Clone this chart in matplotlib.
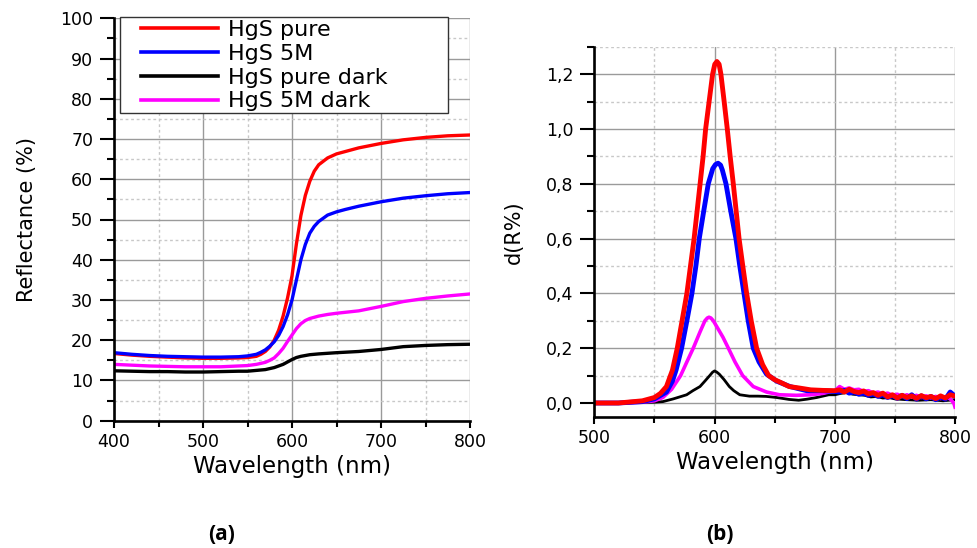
import matplotlib
matplotlib.use("Agg")
import matplotlib.pyplot as plt
from matplotlib.ticker import MultipleLocator, FuncFormatter
from matplotlib.patches import Rectangle

# ---------------- Panel (a): Reflectance ----------------
wl_pure = [400, 420, 440, 460, 480, 500, 520, 540, 550, 560, 565, 570, 575, 580, 585, 590, 595,
           600, 605, 610, 615, 620, 625, 630, 640, 650, 660, 675, 700, 725, 750, 775, 800]
r_pure = [16.7, 16.3, 16.0, 15.8, 15.6, 15.5, 15.5, 15.6, 15.7, 16.0, 16.5, 17.2, 18.3, 20.0, 22.5, 26.0, 30.5,
          36.0, 44.0, 51.0, 56.0, 59.5, 62.0, 63.6, 65.3, 66.3, 66.9, 67.8, 68.9, 69.8, 70.4, 70.8, 71.0]

wl_5m = [400, 420, 440, 460, 480, 500, 520, 540, 550, 560, 565, 570, 575, 580, 585, 590, 595,
         600, 605, 610, 615, 620, 625, 630, 640, 650, 660, 675, 700, 725, 750, 775, 800]
r_5m = [16.9, 16.5, 16.2, 16.0, 15.9, 15.8, 15.8, 15.9, 16.1, 16.5, 17.0, 17.6, 18.5, 19.6, 21.2, 23.4, 26.3,
        30.0, 35.0, 40.0, 43.8, 46.6, 48.3, 49.5, 51.1, 51.9, 52.5, 53.3, 54.4, 55.3, 55.9, 56.4, 56.7]

wl_5m_dark = [400, 420, 440, 460, 480, 500, 520, 540, 550, 560, 570, 575, 580, 585, 590, 595,
              600, 605, 610, 615, 620, 630, 640, 650, 675, 700, 725, 750, 775, 800]
r_5m_dark = [14.0, 13.8, 13.6, 13.5, 13.4, 13.4, 13.4, 13.6, 13.7, 14.0, 14.5, 15.0, 15.6, 16.7, 18.0, 19.7,
             21.3, 22.9, 24.1, 24.9, 25.4, 26.0, 26.4, 26.7, 27.3, 28.4, 29.6, 30.4, 31.0, 31.5]

wl_pure_dark = [400, 420, 440, 460, 480, 500, 520, 540, 550, 560, 570, 580, 590, 595,
                600, 605, 610, 620, 630, 650, 675, 700, 725, 750, 775, 800]
r_pure_dark = [12.4, 12.3, 12.2, 12.2, 12.1, 12.1, 12.2, 12.3, 12.3, 12.5, 12.7, 13.2, 14.0, 14.6,
               15.2, 15.7, 16.0, 16.4, 16.6, 16.9, 17.2, 17.7, 18.4, 18.7, 18.9, 19.0]

# ---------------- Panel (b): derivative ----------------
wl_d_pure = [500, 520, 540, 550, 555, 560, 565, 569, 573, 577, 580, 583, 585.5, 588, 590.5, 592.6, 595.5,
             598.4, 600.2, 602, 603.8, 605.3, 608, 610.6, 613, 615.6, 618, 620.4, 623.5, 626.7, 630.5, 635, 640, 645,
             650, 655, 662, 670, 680, 690,
             700, 704, 708, 712, 716, 720, 724, 728, 732, 736, 740, 744, 748, 752, 756, 760,
             764, 768, 772, 776, 780, 784, 788, 792, 796, 800]
d_pure = [0.0, 0.0, 0.008, 0.02, 0.035, 0.06, 0.12, 0.2, 0.3, 0.4, 0.5, 0.6, 0.7, 0.8, 0.9, 1.0, 1.1,
          1.2, 1.236, 1.246, 1.236, 1.2, 1.1, 1.0, 0.9, 0.8, 0.7, 0.6, 0.5, 0.4, 0.3, 0.2, 0.14, 0.1,
          0.085, 0.075, 0.06, 0.055, 0.048, 0.046,
          0.045, 0.048, 0.04, 0.05, 0.042, 0.038, 0.044, 0.033, 0.038, 0.028, 0.036, 0.022, 0.03, 0.018, 0.028, 0.02,
          0.026, 0.017, 0.027, 0.019, 0.024, 0.016, 0.026, 0.018, 0.03, 0.025]

wl_d_5m = [500, 520, 540, 550, 560, 565, 568, 572.6, 577, 581.2, 584.5, 587.3, 591, 594.8, 598.5, 600.8, 602.9,
           605, 606.5, 609.5, 613.5, 617.8, 621, 624.5, 628, 632.2, 637, 643.3, 651.6, 662.7, 676.6, 690,
           700, 704, 708, 712, 716, 720, 724, 728, 732, 736, 740, 744, 748, 752, 756, 760,
           764, 768, 772, 776, 780, 784, 788, 792, 796, 800]
d_5m = [0.0, 0.0, 0.005, 0.015, 0.04, 0.08, 0.12, 0.2, 0.3, 0.4, 0.5, 0.6, 0.7, 0.8, 0.855, 0.87, 0.875,
        0.868, 0.85, 0.8, 0.7, 0.6, 0.5, 0.4, 0.3, 0.2, 0.15, 0.105, 0.08, 0.06, 0.045, 0.045,
        0.042, 0.04, 0.046, 0.036, 0.04, 0.032, 0.036, 0.028, 0.033, 0.024, 0.03, 0.02, 0.027, 0.017, 0.028, 0.016,
        0.03, 0.014, 0.026, 0.015, 0.024, 0.012, 0.022, 0.014, 0.04, 0.025]

wl_d_5m_dark = [500, 520, 540, 550, 557, 564.3, 571.8, 577, 582.3, 588, 592, 594, 595.4, 597, 599, 603, 607, 611.5,
                617, 623.4, 632.2, 643.3, 654, 668, 680, 690,
                700, 704, 708, 712, 716, 720, 724, 728, 732, 736, 740, 744, 748, 752, 756, 760,
                764, 768, 772, 776, 780, 784, 788, 792, 796, 799, 800]
d_5m_dark = [0.0, 0.0, 0.003, 0.008, 0.02, 0.05, 0.1, 0.15, 0.2, 0.26, 0.3, 0.31, 0.313, 0.31, 0.3, 0.27, 0.24, 0.2,
             0.15, 0.1, 0.06, 0.04, 0.03, 0.028, 0.03, 0.035,
             0.045, 0.06, 0.05, 0.055, 0.048, 0.05, 0.042, 0.045, 0.036, 0.04, 0.032, 0.036, 0.028, 0.032, 0.024, 0.03,
             0.022, 0.028, 0.02, 0.026, 0.018, 0.024, 0.016, 0.022, 0.015, 0.0, -0.015]

wl_d_pure_dark = [500, 520, 540, 550, 557, 565.7, 576.8, 582, 587.9, 592, 596, 598.3, 600, 601.8, 604, 608, 612.3, 616,
                  621, 629, 636, 643, 651.6, 662, 670, 677, 685,
                  690, 695, 700, 705, 710, 715, 720, 725, 730, 735, 740, 745, 750, 760, 770, 780, 790, 800]
d_pure_dark = [0.0, 0.0, 0.002, 0.003, 0.005, 0.015, 0.03, 0.045, 0.06, 0.08, 0.1, 0.112, 0.117, 0.113, 0.105, 0.085, 0.06, 0.045,
               0.03, 0.025, 0.025, 0.024, 0.02, 0.013, 0.01, 0.014, 0.02,
               0.025, 0.03, 0.03, 0.035, 0.038, 0.032, 0.03, 0.028, 0.022, 0.024, 0.018, 0.02, 0.015, 0.012, 0.01, 0.012, 0.008, 0.012]

labels = ["HgS pure", "HgS 5M", "HgS pure dark", "HgS 5M dark"]
colors = ["#ff0000", "#0000ff", "#000000", "#ff00ff"]

W, H = 977, 548
fig = plt.figure(figsize=(W / 100, H / 100), dpi=100)
plt.rcParams['font.family'] = ['DejaVu Sans']

def px_axes(l, r, t, b):
    return fig.add_axes([l / W, 1 - b / H, (r - l) / W, (b - t) / H])

ax1 = px_axes(114, 470, 18.3, 420.7)
ax2 = px_axes(594.3, 955, 46.7, 416.7)

def style(ax):
    for s in ["top", "right"]:
        ax.spines[s].set_visible(False)
    for s in ["left", "bottom"]:
        ax.spines[s].set_linewidth(1.9)
        ax.spines[s].set_color("black")
    ax.grid(True, which="major", color="#9a9a9a", linewidth=1.0, linestyle="-")
    ax.grid(True, which="minor", color="#c8c8c8", linewidth=1.0, linestyle=(0, (2, 2)))
    ax.set_axisbelow(True)
    ax.tick_params(axis="y", which="major", direction="out", length=10, width=1.5, labelsize=12.5, pad=5)
    ax.tick_params(axis="y", which="minor", direction="out", length=5, width=1.5)
    ax.tick_params(axis="x", which="major", direction="out", length=5, width=1.5, labelsize=12.5, pad=4)
    ax.tick_params(axis="x", which="minor", direction="out", length=4, width=1.5)

# Panel (a)
ax1.plot(wl_pure, r_pure, color=colors[0], lw=2.4, label=labels[0])
ax1.plot(wl_5m, r_5m, color=colors[1], lw=2.4, label=labels[1])
ax1.plot(wl_pure_dark, r_pure_dark, color=colors[2], lw=2.4, label=labels[2])
ax1.plot(wl_5m_dark, r_5m_dark, color=colors[3], lw=2.4, label=labels[3])
ax1.set_xlim(400, 800)
ax1.set_ylim(0, 100)
ax1.xaxis.set_major_locator(MultipleLocator(100))
ax1.xaxis.set_minor_locator(MultipleLocator(50))
ax1.yaxis.set_major_locator(MultipleLocator(10))
ax1.yaxis.set_minor_locator(MultipleLocator(5))
style(ax1)
ax1.set_xlabel("Wavelength (nm)", fontsize=16.5, labelpad=3)
ax1.set_ylabel("Reflectance (%)", fontsize=15, labelpad=17,
               family=["Liberation Sans Narrow", "DejaVu Sans"])

# legend box (frame drawn in pixel coordinates)
lx0, lx1, ly0, ly1 = 120, 448, 17, 113
ax1.add_patch(Rectangle(((lx0 - 114) / 356, 1 - (ly1 - 18.3) / 402.4), (lx1 - lx0) / 356, (ly1 - ly0) / 402.4,
                        transform=ax1.transAxes, facecolor="white", edgecolor="#333333", lw=1.0,
                        zorder=4, clip_on=False))
leg = ax1.legend(loc="upper left", bbox_to_anchor=((141 - 114) / 356, 1 - (20 - 18.3) / 402.4),
                 fontsize=16, frameon=False, handlelength=3.45, handletextpad=0.45,
                 borderpad=0.0, labelspacing=0.17, borderaxespad=0)
leg.set_zorder(5)
for ln in leg.get_lines():
    ln.set_linewidth(2.6)

# Panel (b)
ax2.plot(wl_d_pure_dark, d_pure_dark, color=colors[2], lw=2.0)
ax2.plot(wl_d_5m_dark, d_5m_dark, color=colors[3], lw=2.6)
ax2.plot(wl_d_5m, d_5m, color=colors[1], lw=3.5)
ax2.plot(wl_d_pure, d_pure, color=colors[0], lw=3.5)
ax2.set_xlim(500, 800)
ax2.set_ylim(-0.05, 1.3)
ax2.xaxis.set_major_locator(MultipleLocator(100))
ax2.xaxis.set_minor_locator(MultipleLocator(50))
ax2.yaxis.set_major_locator(MultipleLocator(0.2))
ax2.yaxis.set_minor_locator(MultipleLocator(0.1))
ax2.yaxis.set_major_formatter(FuncFormatter(lambda v, p: f"{v:.1f}".replace(".", ",").replace("-0,0", "0,0")))
style(ax2)
ax2.set_xlabel("Wavelength (nm)", fontsize=16.5, labelpad=3)
ax2.set_ylabel("d(R%)", fontsize=15, labelpad=16,
               family=["Liberation Sans Narrow", "DejaVu Sans"])

fig.text(222 / W, 1 - 535 / H, "(a)", fontsize=15, fontweight="bold", ha="center", va="center",
         family=["Open Sans", "DejaVu Sans"])
fig.text(720 / W, 1 - 535 / H, "(b)", fontsize=15, fontweight="bold", ha="center", va="center",
         family=["Open Sans", "DejaVu Sans"])

fig.savefig("out.png", dpi=100, facecolor="white")
